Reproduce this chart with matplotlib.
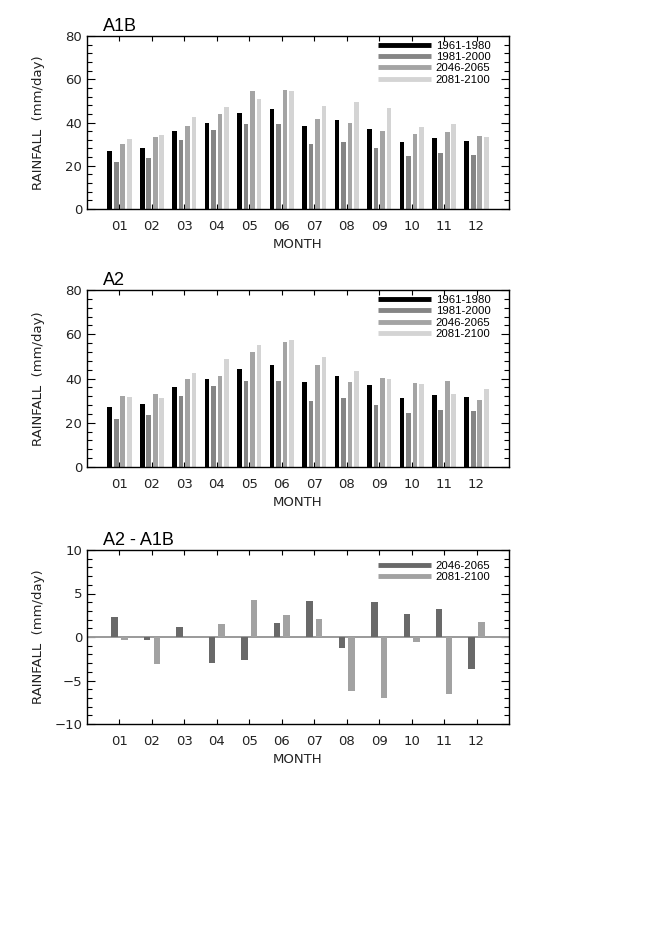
import matplotlib
matplotlib.use('Agg')
import matplotlib.pyplot as plt
from matplotlib.lines import Line2D
from matplotlib.ticker import MultipleLocator
import numpy as np

months = ['01', '02', '03', '04', '05', '06', '07', '08', '09', '10', '11', '12']
periods = ['1961-1980', '1981-2000', '2046-2065', '2081-2100']

# A1B scenario, rainfall (mm/day)
a1b_1961 = [27.0, 28.2, 36.1, 39.8, 44.3, 46.2, 38.3, 41.2, 36.8, 31.2, 32.9, 31.5]
a1b_1981 = [21.7, 23.6, 32.0, 36.6, 39.1, 39.1, 29.9, 31.1, 28.0, 24.3, 25.9, 25.1]
a1b_2046 = [29.9, 33.2, 38.4, 44.1, 54.7, 55.0, 41.8, 39.8, 36.1, 34.9, 35.4, 33.8]
a1b_2081 = [32.2, 34.3, 42.6, 47.3, 51.0, 54.7, 47.6, 49.5, 46.9, 37.8, 39.5, 33.5]

# A2 scenario
a2_1961 = [26.9, 28.3, 36.1, 39.9, 44.2, 46.2, 38.2, 41.3, 36.9, 31.3, 32.7, 31.5]
a2_1981 = [21.7, 23.7, 32.0, 36.7, 39.0, 39.0, 29.8, 31.0, 28.0, 24.5, 25.8, 25.2]
a2_2046 = [32.3, 33.0, 39.6, 41.3, 52.1, 56.4, 46.0, 38.5, 40.2, 37.8, 38.7, 30.1]
a2_2081 = [31.8, 31.3, 42.4, 48.8, 55.2, 57.2, 49.7, 43.3, 39.9, 37.3, 32.9, 35.3]

# A2 - A1B difference
diff_2046 = [2.35, -0.38, 1.15, -2.96, -2.6, 1.62, 4.12, -1.31, 4.08, 2.62, 3.19, -3.65]
diff_2081 = [-0.38, -3.08, -0.05, 1.5, 4.23, 2.58, 2.04, -6.23, -7.04, -0.62, -6.54, 1.73]

colors4 = ['#000000', '#858585', '#a4a4a4', '#d4d4d4']
colors2 = ['#696969', '#a2a2a2']

plt.rcParams['font.family'] = ['DejaVu Sans']

fig = plt.figure(figsize=(6.61, 9.36), dpi=100)
W, H = 661.0, 936.0


def make_ax(top, bottom):
    return fig.add_axes([87 / W, 1 - bottom / H, 422 / W, (bottom - top) / H])


def style_ax(ax, title, ylim, major, minor):
    ax.set_axisbelow(True)
    ax.set_xlim(0, 13)
    ax.set_ylim(*ylim)
    x = np.arange(1, 13)
    ax.set_xticks(x)
    ax.set_xticklabels(months)
    ax.yaxis.set_major_locator(MultipleLocator(major))
    ax.yaxis.set_minor_locator(MultipleLocator(minor))
    ax.tick_params(axis='x', which='both', direction='in', top=True, bottom=True,
                   length=3.5, width=0.8, pad=8, labelsize=9.5, labelcolor='#222222')
    ax.tick_params(axis='y', which='major', direction='in', left=True, right=True,
                   length=6, width=0.8, pad=3.5, labelsize=9.5, labelcolor='#222222')
    ax.tick_params(axis='y', which='minor', direction='in', left=True, right=True,
                   length=3.5, width=0.8)
    for s in ax.spines.values():
        s.set_linewidth(1.0)
    ax.set_ylabel('RAINFALL  (mm/day)', fontsize=9.5, color='#222222')
    ax.yaxis.set_label_coords(-0.1, 0.5)
    ax.set_xlabel('MONTH', fontsize=9.5, color='#222222')
    ax.xaxis.set_label_coords(0.5, -0.165)
    ax.text(0.038, 1.03, title, transform=ax.transAxes, fontsize=13,
            family='Liberation Sans', va='baseline', ha='left')


def add_legend(ax, labels, colors, anchor_y):
    handles = [Line2D([0], [0], color=c, lw=3.5, solid_capstyle='butt') for c in colors]
    ax.legend(handles, labels, loc='upper left', bbox_to_anchor=(0.69, anchor_y),
              frameon=False, borderpad=0, borderaxespad=0, handlelength=4.6,
              handletextpad=0.45, labelspacing=0.1,
              prop={'family': 'Liberation Sans', 'size': 8.2})


def four_bar_panel(top, bottom, title, series):
    ax = make_ax(top, bottom)
    x = np.arange(1, 13)
    offsets = [-0.3, -0.1, 0.1, 0.3]
    for vals, off, c in zip(series, offsets, colors4):
        ax.bar(x + off, vals, width=0.145, color=c, linewidth=0)
    style_ax(ax, title, (0, 80), 20, 4)
    add_legend(ax, periods, colors4, 0.97)
    return ax


four_bar_panel(36, 209, 'A1B', [a1b_1961, a1b_1981, a1b_2046, a1b_2081])
four_bar_panel(290, 467, 'A2', [a2_1961, a2_1981, a2_2046, a2_2081])

ax3 = make_ax(550, 724)
x = np.arange(1, 13)
ax3.axhline(0, color='#9a9a9a', lw=1.4, zorder=1)
for vals, off, c in zip([diff_2046, diff_2081], [-0.15, 0.15], colors2):
    ax3.bar(x + off, vals, width=0.2, color=c, linewidth=0, zorder=2)
style_ax(ax3, 'A2 - A1B', (-10, 10), 5, 1)
add_legend(ax3, periods[2:], colors2, 0.935)

fig.savefig('out.png', dpi=100)
